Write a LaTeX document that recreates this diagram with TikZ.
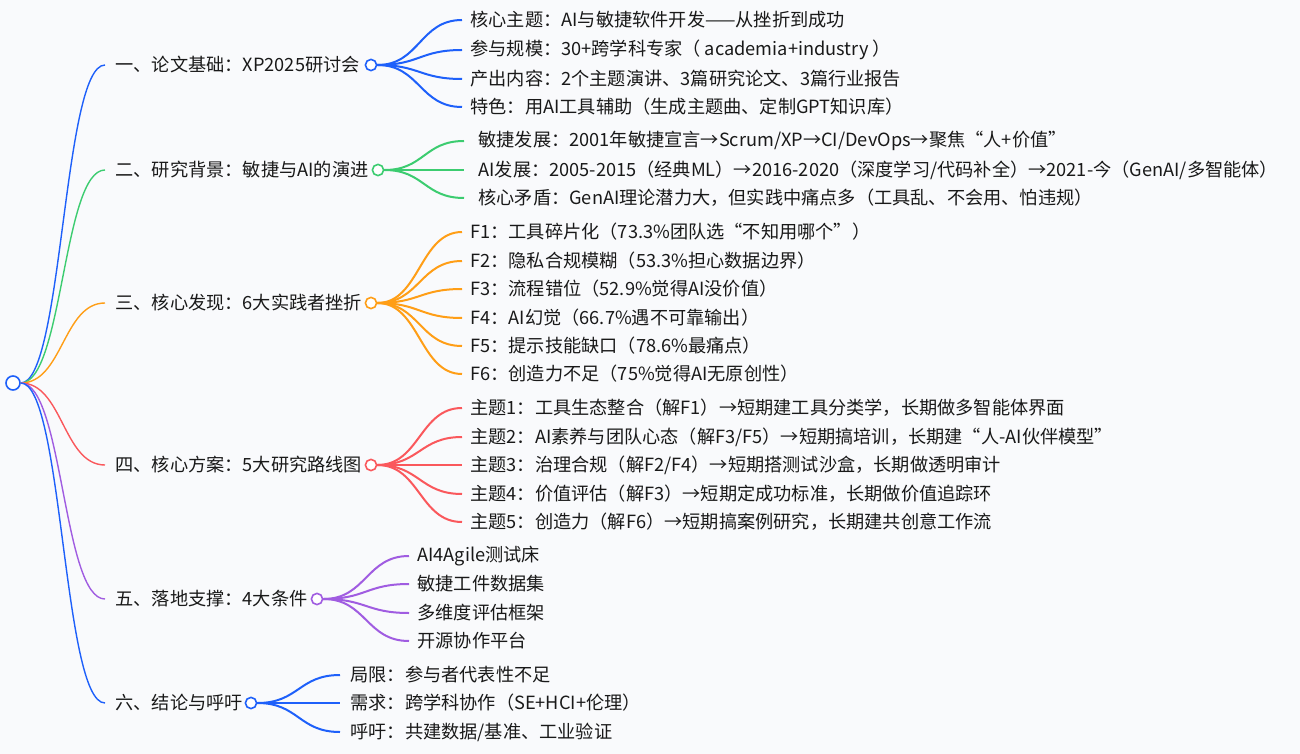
\documentclass[tikz,border=0pt]{standalone}
\usepackage{fontspec}
\setmainfont{Noto Sans CJK SC}
\usetikzlibrary{positioning,calc}
\usepackage{xcolor}

\definecolor{bgcol}{RGB}{249,250,252}
\definecolor{mblue}{RGB}{30,96,250}
\definecolor{mgreen}{RGB}{60,204,112}
\definecolor{morange}{RGB}{255,158,22}
\definecolor{mred}{RGB}{250,88,92}
\definecolor{mpurple}{RGB}{160,92,225}

\tikzset{
  mmtext/.style={anchor=west,inner sep=0pt,text=black!90,
    font=\fontsize{9.1pt}{10pt}\selectfont},
  dot/.style={circle,draw=#1,fill=white,line width=0.8pt,
    minimum size=5.6pt,inner sep=0pt},
  link/.style={draw=#1,line width=0.7pt},
  sublink/.style={draw=#1,line width=1pt}
}

% horizontal-tangent bezier between two points
\newcommand{\mmlink}[3]{%
  \path ($(#2)!0.5!(#3)$) coordinate (mid);
  \draw[#1] (#2) .. controls (mid |- #2) and (mid |- #3) .. (#3);}

\begin{document}
\begin{tikzpicture}[x=0.5pt,y=-0.5pt]
    % Background
    \fill[bgcol] (0,0) rectangle (1300,754);
    \useasboundingbox (0,0) rectangle (1300,754);

    % Root
    \node[dot=mblue,minimum size=7pt] (root) at (13,383) {};

    % Main branches
    \foreach \n/\y/\d/\c/\t in {
        b1/65/371/mblue/{一、论文基础：XP2025研讨会},
        b2/170/378/mgreen/{二、研究背景：敏捷与AI的演进},
        b3/303/371/morange/{三、核心发现：6大实践者挫折},
        b4/465/371/mred/{四、核心方案：5大研究路线图},
        b5/599/317/mpurple/{五、落地支撑：4大条件},
        b6/703/251/mblue/{六、结论与呼吁}} {
      \coordinate (\n e) at (105,\y);
      \node[mmtext,right=5pt of \n e] (\n) {\t};
      \node[dot=\c] (\n dot) at (\d,\y) {};
      \mmlink{link=\c}{root.east}{\n e}
    }

    % Branch 1 children
    \foreach \y/\t [count=\i] in {
        20/{核心主题：AI与敏捷软件开发——从挫折到成功},
        50/{参与规模：30+跨学科专家（ academia+industry ）},
        79/{产出内容：2个主题演讲、3篇研究论文、3篇行业报告},
        107/{特色：用AI工具辅助（生成主题曲、定制GPT知识库）}} {
      \coordinate (b1e\i) at (462,\y);
      \node[mmtext,right=4pt of b1e\i] (b1t\i) {\t};
      \mmlink{sublink=mblue}{b1dot.east}{b1e\i}
    }

    % Branch 2 children
    \foreach \y/\t [count=\i] in {
        141/{敏捷发展：2001年敏捷宣言→Scrum/XP→CI/DevOps→聚焦“人+价值”},
        170/{AI发展：2005-2015（经典ML）→2016-2020（深度学习/代码补全）→2021-今（GenAI/多智能体）},
        198/{核心矛盾：GenAI理论潜力大，但实践中痛点多（工具乱、不会用、怕违规）}} {
      \coordinate (b2e\i) at (464,\y);
      \node[mmtext,right=7pt of b2e\i] (b2t\i) {\t};
      \mmlink{sublink=mgreen}{b2dot.east}{b2e\i}
    }

    % Branch 3 children
    \foreach \y/\t [count=\i] in {
        232/{F1：工具碎片化（73.3\%团队选“不知用哪个”）},
        261/{F2：隐私合规模糊（53.3\%担心数据边界）},
        289/{F3：流程错位（52.9\%觉得AI没价值）},
        318/{F4：AI幻觉（66.7\%遇不可靠输出）},
        346/{F5：提示技能缺口（78.6\%最痛点）},
        374/{F6：创造力不足（75\%觉得AI无原创性）}} {
      \coordinate (b3e\i) at (462,\y);
      \node[mmtext,right=4pt of b3e\i] (b3t\i) {\t};
      \mmlink{sublink=morange}{b3dot.east}{b3e\i}
    }

    % Branch 4 children
    \foreach \y/\t [count=\i] in {
        408/{主题1：工具生态整合（解F1）→短期建工具分类学，长期做多智能体界面},
        437/{主题2：AI素养与团队心态（解F3/F5）→短期搞培训，长期建“人-AI伙伴模型”},
        465/{主题3：治理合规（解F2/F4）→短期搭测试沙盒，长期做透明审计},
        494/{主题4：价值评估（解F3）→短期定成功标准，长期做价值追踪环},
        522/{主题5：创造力（解F6）→短期搞案例研究，长期建共创意工作流}} {
      \coordinate (b4e\i) at (462,\y);
      \node[mmtext,right=4pt of b4e\i] (b4t\i) {\t};
      \mmlink{sublink=mred}{b4dot.east}{b4e\i}
    }

    % Branch 5 children
    \foreach \y/\t [count=\i] in {
        556/{AI4Agile测试床},
        584/{敏捷工件数据集},
        613/{多维度评估框架},
        641/{开源协作平台}} {
      \coordinate (b5e\i) at (409,\y);
      \node[mmtext,right=4pt of b5e\i] (b5t\i) {\t};
      \mmlink{sublink=mpurple}{b5dot.east}{b5e\i}
    }

    % Branch 6 children
    \foreach \y/\t [count=\i] in {
        675/{局限：参与者代表性不足},
        703/{需求：跨学科协作（SE+HCI+伦理）},
        732/{呼吁：共建数据/基准、工业验证}} {
      \coordinate (b6e\i) at (340,\y);
      \node[mmtext,right=5pt of b6e\i] (b6t\i) {\t};
      \mmlink{sublink=mblue}{b6dot.east}{b6e\i}
    }
\end{tikzpicture}
\end{document}
